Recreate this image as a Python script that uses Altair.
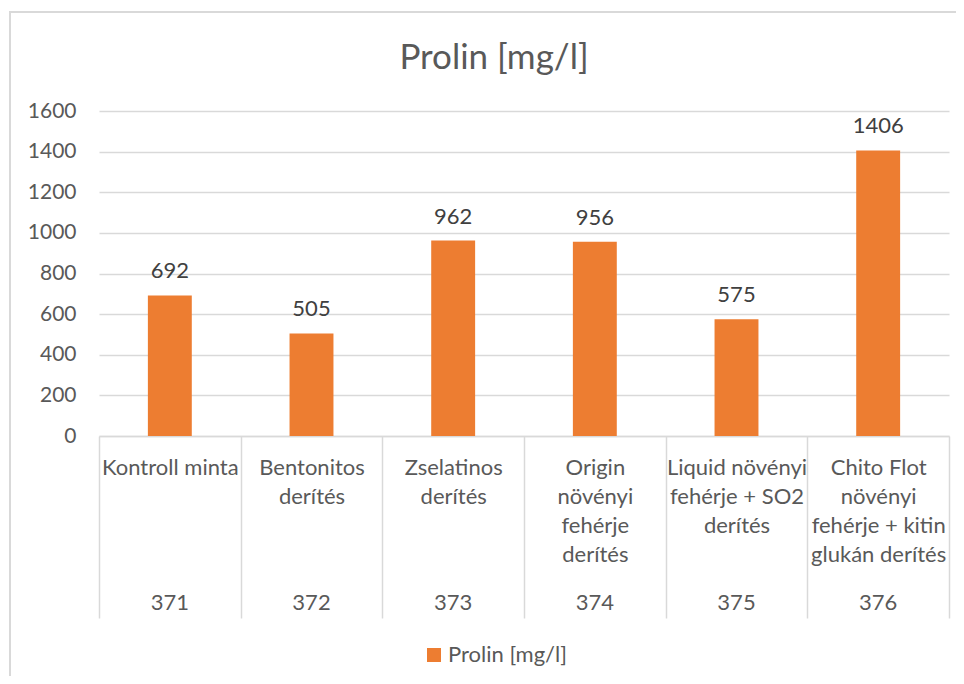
import altair as alt
import pandas as pd

names = [
    "Kontroll minta",
    "Bentonitos|derítés",
    "Zselatinos|derítés",
    "Origin|növényi|fehérje|derítés",
    "Liquid növényi|fehérje + SO2|derítés",
    "Chito Flot|növényi|fehérje + kitin|glukán derítés",
]
codes = ["371", "372", "373", "374", "375", "376"]
values = [692, 505, 962, 956, 575, 1406]
series = "Prolin [mg/l]"
y_ticks = [0, 200, 400, 600, 800, 1000, 1200, 1400, 1600]

df = pd.DataFrame({"name": names, "code": codes, "value": values, "series": [series] * len(names)})

FONT = "Lato"
GREY = "#595959"
LINE = "#d9d9d9"
W, H = 850, 325
FS = 21
FS2 = 22

xenc = alt.X(
    "name:N",
    sort=None,
    scale=alt.Scale(paddingInner=0, paddingOuter=0),
    axis=alt.Axis(
        title=None,
        labelAngle=0,
        labelExpr="split(datum.label, '|')",
        labelBaseline="top",
        labelLineHeight=29,
        labelPadding=-161,
        labelFont=FONT,
        labelFontSize=FS2,
        labelColor=GREY,
        labelLimit=200,
        tickBand="extent",
        tickSize=182,
        tickColor=LINE,
        tickWidth=1.5,
        domainColor=LINE,
        domainWidth=1.5,
    ),
)

yenc = alt.Y(
    "value:Q",
    scale=alt.Scale(domain=[0, 1600], nice=False),
    axis=alt.Axis(
        title=None,
        values=y_ticks,
        format="d",
        domain=False,
        ticks=False,
        grid=True,
        gridColor=LINE,
        gridWidth=1.5,
        labelPadding=23,
        labelFont=FONT,
        labelFontSize=FS,
        labelColor=GREY,
    ),
)

bars = alt.Chart(df).mark_bar(width=alt.RelativeBandSize(0.31)).encode(
    x=xenc,
    y=yenc,
    color=alt.Color(
        "series:N",
        scale=alt.Scale(range=["#ED7D31"]),
        legend=alt.Legend(
            title=None,
            orient="none",
            legendX=324,
            legendY=533,
            symbolType="square",
            symbolSize=196,
            symbolStrokeWidth=0,
            labelFont=FONT,
            labelFontSize=FS2,
            labelColor=GREY,
            labelOffset=3,
        ),
    ),
)

labels = alt.Chart(df).mark_text(
    baseline="middle", dy=-24, font=FONT, fontSize=FS2, color="#404040"
).encode(x=alt.X("name:N", sort=None), y="value:Q", text="value:Q")

code_text = alt.Chart(df).mark_text(
    baseline="middle", font=FONT, fontSize=FS2, color=GREY
).encode(x=alt.X("name:N", sort=None), y=alt.value(492), text="code:N")

border = alt.Chart(df).mark_rect(
    fill="transparent", stroke=LINE, strokeWidth=1.5
).encode(x=alt.value(-89), x2=alt.value(1000), y=alt.value(-99), y2=alt.value(800))

chart = (
    alt.layer(border, bars, labels, code_text)
    .properties(
        width=W,
        height=H,
        title=alt.TitleParams(
            series, font=FONT, fontSize=35, fontWeight="normal", color=GREY,
            anchor="middle", dx=-30, offset=-65,
        ),
        autosize=alt.AutoSizeParams(type="none"),
        padding={"left": 91, "top": 103, "right": 7, "bottom": 240},
    )
    .configure_view(stroke=None)
)

chart.save("out.html", embed_options={"renderer": "svg", "actions": False})
